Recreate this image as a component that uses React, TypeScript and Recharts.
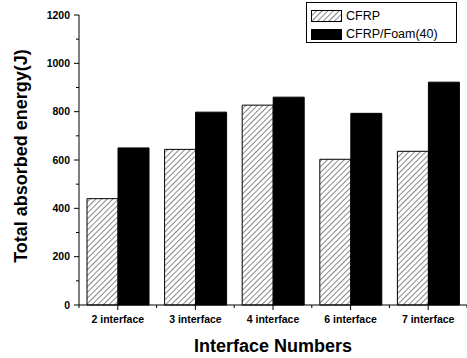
import { Bar, BarChart, Label, Legend, XAxis, YAxis } from 'recharts';

const categories = ['2 interface', '3 interface', '4 interface', '6 interface', '7 interface'];
const cfrpValues = [440, 644, 827, 603, 636];
const foamValues = [650, 798, 860, 793, 922];
const yTicks = [0, 100, 200, 300, 400, 500, 600, 700, 800, 900, 1000, 1100, 1200];

const data = categories.map((name, i) => ({ name, cfrp: cfrpValues[i], foam: foamValues[i] }));

const FONT = '"Liberation Sans", Arial, Helvetica, sans-serif';
const WIDTH = 467;
const HEIGHT = 358;
const AXIS_W = 79;
const BAND = (WIDTH - AXIS_W) / categories.length;

function HatchPattern({ id }: { id: string }) {
  return (
    <pattern id={id} patternUnits="userSpaceOnUse" width={4} height={4} patternTransform="rotate(45)">
      <rect width={4} height={4} fill="#fff" />
      <line x1={0} y1={0} x2={0} y2={4} stroke="#222" strokeWidth={1.1} />
    </pattern>
  );
}

function YTick({ x, y, payload }: any) {
  const major = payload.value % 200 === 0;
  return (
    <g>
      <line x1={x - (major ? 5 : 3)} x2={x} y1={y} y2={y} stroke="#000" />
      {major && (
        <text x={x - 9} y={y} dy="0.35em" textAnchor="end" fontSize={10.5} fontWeight="bold" fontFamily={FONT} fill="#000">
          {payload.value}
        </text>
      )}
    </g>
  );
}

function XTick({ x, y, payload, index }: any) {
  const last = index === categories.length - 1;
  return (
    <g stroke="#000">
      <line x1={x} x2={x} y1={y} y2={y + 5} />
      <line x1={x - BAND / 2} x2={x - BAND / 2} y1={y} y2={y + 3} />
      {last && <line x1={x + BAND / 2} x2={x + BAND / 2} y1={y} y2={y + 3} />}
      <text x={x} y={y + 18} textAnchor="middle" fontSize={10.5} fontWeight="bold" fontFamily={FONT} fill="#000" stroke="none">
        {payload.value}
      </text>
    </g>
  );
}

function LegendBox() {
  const row = { display: 'flex', alignItems: 'center', height: 18 } as const;
  return (
    <div
      style={{
        width: 151,
        height: 41,
        boxSizing: 'border-box',
        border: '1px solid #000',
        background: '#fff',
        padding: '4px 0 0 4px',
        fontFamily: FONT,
        fontSize: 12.5,
        color: '#000',
        lineHeight: 1,
      }}
    >
      <div style={row}>
        <svg width={31} height={12} style={{ marginRight: 4 }}>
          <defs>
            <HatchPattern id="hatch-legend" />
          </defs>
          <rect x={0.5} y={0.5} width={30} height={11} fill="url(#hatch-legend)" stroke="#000" />
        </svg>
        CFRP
      </div>
      <div style={row}>
        <svg width={31} height={11} style={{ marginRight: 4 }}>
          <rect x={0} y={0} width={31} height={11} fill="#000" />
        </svg>
        CFRP/Foam(40)
      </div>
    </div>
  );
}

export default function App() {
  return (
    <div style={{ position: 'absolute', top: 0, left: 0, width: WIDTH, height: HEIGHT, background: '#fff' }}>
      <BarChart
        width={WIDTH}
        height={HEIGHT}
        data={data}
        margin={{ top: 15, right: 0, bottom: 0, left: 0 }}
        barCategoryGap={8}
        barGap={0}
      >
        <defs>
          <HatchPattern id="hatch" />
        </defs>
        <XAxis
          dataKey="name"
          height={53}
          tickSize={0}
          tickMargin={0}
          tickLine={false}
          tick={<XTick />}
          axisLine={{ stroke: '#000' }}
          interval={0}
        >
          <Label
            value="Interface Numbers"
            position="insideBottom"
            offset={6}
            style={{ fontFamily: FONT, fontSize: 18, fontWeight: 'bold', fill: '#000' }}
          />
        </XAxis>
        <YAxis
          width={AXIS_W}
          domain={[0, 1200]}
          ticks={yTicks}
          interval={0}
          tickSize={0}
          tickMargin={0}
          tickLine={false}
          tick={<YTick />}
          axisLine={{ stroke: '#000' }}
        >
          <Label
            content={({ viewBox }: any) => {
              const cx = 21;
              const cy = viewBox.y + viewBox.height / 2 - 4;
              return (
                <text
                  x={cx}
                  y={cy}
                  transform={`rotate(-90, ${cx}, ${cy})`}
                  textAnchor="middle"
                  dominantBaseline="central"
                  fontFamily={FONT}
                  fontSize={18}
                  fontWeight="bold"
                  fill="#000"
                >
                  Total absorbed energy(J)
                </text>
              );
            }}
          />
        </YAxis>
        <Legend
          layout="vertical"
          align="center"
          verticalAlign="middle"
          wrapperStyle={{ top: 2, left: 306, width: 151 }}
          content={() => <LegendBox />}
        />
        <Bar dataKey="cfrp" name="CFRP" fill="url(#hatch)" stroke="#000" strokeWidth={1} isAnimationActive={false} />
        <Bar dataKey="foam" name="CFRP/Foam(40)" fill="#000" stroke="#000" strokeWidth={1} isAnimationActive={false} />
      </BarChart>
    </div>
  );
}
